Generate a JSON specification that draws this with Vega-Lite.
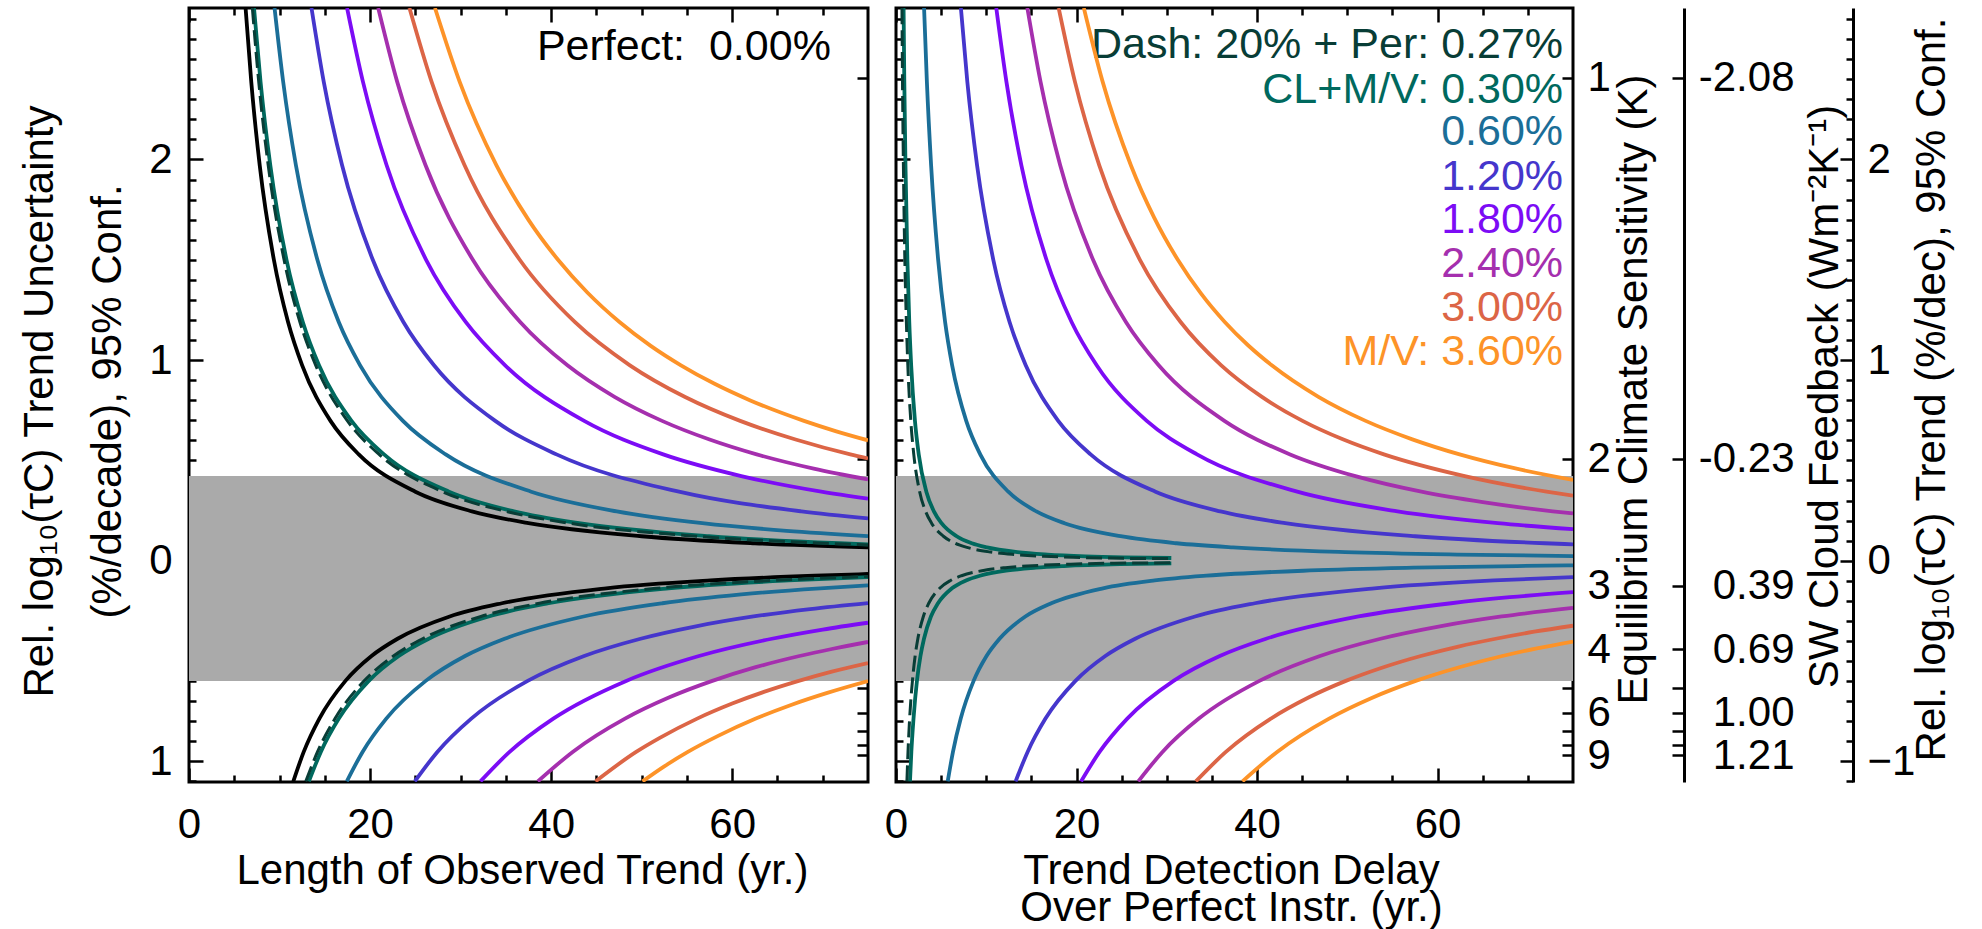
{
 "$schema": "https://vega.github.io/schema/vega-lite/v6.json",
 "background": "white",
 "padding": {"left": 16, "top": 5, "right": 5, "bottom": 0},
 "config": {
  "view": {"stroke": "black", "strokeWidth": 3},
  "font": "Liberation Sans",
  "concat": {"spacing": 11},
  "axis": {"grid": false, "minExtent": 0, "maxExtent": 400, "labelFont": "Liberation Sans", "labelFontSize": 42, "labelColor": "black", "titleFont": "Liberation Sans", "titleFontSize": 42, "titleFontWeight": "normal", "titleColor": "black", "tickColor": "black", "tickWidth": 2.5, "domainColor": "black", "domainWidth": 3, "labelFlush": false, "labelOverlap": false, "labelBound": false},
  "line": {"strokeWidth": 3.8, "interpolate": "monotone"}
 },
 "datasets": {
  "band": [{"x0": 0, "x1": 75, "y0": -0.6, "y1": 0.422}],
  "labels": [
   {"panel": "L", "series": "perfect", "text": "Perfect:\u00a0 0.00%", "x": 70.9, "y": 2.561},
   {"panel": "R", "series": "dash", "text": "Dash: 20% + Per: 0.27%", "x": 73.9, "y": 2.569},
   {"panel": "R", "series": "cl", "text": "CL+M/V: 0.30%", "x": 73.9, "y": 2.347},
   {"panel": "R", "series": "p060", "text": "0.60%", "x": 73.9, "y": 2.138},
   {"panel": "R", "series": "p120", "text": "1.20%", "x": 73.9, "y": 1.912},
   {"panel": "R", "series": "p180", "text": "1.80%", "x": 73.9, "y": 1.698},
   {"panel": "R", "series": "p240", "text": "2.40%", "x": 73.9, "y": 1.477},
   {"panel": "R", "series": "p300", "text": "3.00%", "x": 73.9, "y": 1.261},
   {"panel": "R", "series": "p360", "text": "M/V: 3.60%", "x": 73.9, "y": 1.042}
  ],
  "curves": [
   {"panel":"L","series":"p360","half":"u","x":27.17,"y":2.755},{"panel":"L","series":"p360","half":"u","x":29.89,"y":2.388},{"panel":"L","series":"p360","half":"u","x":33.96,"y":1.971},{"panel":"L","series":"p360","half":"u","x":37.5,"y":1.699},{"panel":"L","series":"p360","half":"u","x":40.76,"y":1.5},{"panel":"L","series":"p360","half":"u","x":44,"y":1.337},{"panel":"L","series":"p360","half":"u","x":47.55,"y":1.19},{"panel":"L","series":"p360","half":"u","x":51,"y":1.071},{"panel":"L","series":"p360","half":"u","x":54.34,"y":0.974},{"panel":"L","series":"p360","half":"u","x":58,"y":0.883},{"panel":"L","series":"p360","half":"u","x":62,"y":0.799},{"panel":"L","series":"p360","half":"u","x":67.93,"y":0.697},{"panel":"L","series":"p360","half":"u","x":71.5,"y":0.645},{"panel":"L","series":"p360","half":"u","x":75,"y":0.6},
   {"panel":"L","series":"p360","half":"l","x":50.09,"y":-1.1},{"panel":"L","series":"p360","half":"l","x":52.5,"y":-1.025},{"panel":"L","series":"p360","half":"l","x":55.1,"y":-0.953},{"panel":"L","series":"p360","half":"l","x":58.5,"y":-0.872},{"panel":"L","series":"p360","half":"l","x":62.61,"y":-0.787},{"panel":"L","series":"p360","half":"l","x":66.5,"y":-0.719},{"panel":"L","series":"p360","half":"l","x":70.5,"y":-0.659},{"panel":"L","series":"p360","half":"l","x":75,"y":-0.6},
   {"panel":"L","series":"p300","half":"u","x":24.35,"y":2.755},{"panel":"L","series":"p300","half":"u","x":26.79,"y":2.388},{"panel":"L","series":"p300","half":"u","x":30.44,"y":1.971},{"panel":"L","series":"p300","half":"u","x":36.53,"y":1.5},{"panel":"L","series":"p300","half":"u","x":42.61,"y":1.19},{"panel":"L","series":"p300","half":"u","x":48.7,"y":0.974},{"panel":"L","series":"p300","half":"u","x":54.8,"y":0.816},{"panel":"L","series":"p300","half":"u","x":60.88,"y":0.697},{"panel":"L","series":"p300","half":"u","x":67,"y":0.604},{"panel":"L","series":"p300","half":"u","x":73.05,"y":0.53},{"panel":"L","series":"p300","half":"u","x":75,"y":0.51},
   {"panel":"L","series":"p300","half":"l","x":44.9,"y":-1.1},{"panel":"L","series":"p300","half":"l","x":49.39,"y":-0.953},{"panel":"L","series":"p300","half":"l","x":52,"y":-0.883},{"panel":"L","series":"p300","half":"l","x":56.13,"y":-0.787},{"panel":"L","series":"p300","half":"l","x":60,"y":-0.712},{"panel":"L","series":"p300","half":"l","x":63.5,"y":-0.654},{"panel":"L","series":"p300","half":"l","x":67.35,"y":-0.599},{"panel":"L","series":"p300","half":"l","x":71,"y":-0.553},{"panel":"L","series":"p300","half":"l","x":75,"y":-0.51},
   {"panel":"L","series":"p240","half":"u","x":20.9,"y":2.755},{"panel":"L","series":"p240","half":"u","x":22.99,"y":2.388},{"panel":"L","series":"p240","half":"u","x":26.13,"y":1.971},{"panel":"L","series":"p240","half":"u","x":31.35,"y":1.5},{"panel":"L","series":"p240","half":"u","x":36.58,"y":1.19},{"panel":"L","series":"p240","half":"u","x":41.8,"y":0.974},{"panel":"L","series":"p240","half":"u","x":47,"y":0.817},{"panel":"L","series":"p240","half":"u","x":52.25,"y":0.697},{"panel":"L","series":"p240","half":"u","x":57.5,"y":0.604},{"panel":"L","series":"p240","half":"u","x":62.7,"y":0.53},{"panel":"L","series":"p240","half":"u","x":69,"y":0.459},{"panel":"L","series":"p240","half":"u","x":75,"y":0.405},
   {"panel":"L","series":"p240","half":"l","x":38.53,"y":-1.1},{"panel":"L","series":"p240","half":"l","x":42.38,"y":-0.953},{"panel":"L","series":"p240","half":"l","x":48.16,"y":-0.787},{"panel":"L","series":"p240","half":"l","x":53,"y":-0.682},{"panel":"L","series":"p240","half":"l","x":57.8,"y":-0.599},{"panel":"L","series":"p240","half":"l","x":62.5,"y":-0.532},{"panel":"L","series":"p240","half":"l","x":67.43,"y":-0.475},{"panel":"L","series":"p240","half":"l","x":71,"y":-0.44},{"panel":"L","series":"p240","half":"l","x":75,"y":-0.405},
   {"panel":"L","series":"p180","half":"u","x":17.46,"y":2.755},{"panel":"L","series":"p180","half":"u","x":19.21,"y":2.388},{"panel":"L","series":"p180","half":"u","x":21.83,"y":1.971},{"panel":"L","series":"p180","half":"u","x":26.19,"y":1.5},{"panel":"L","series":"p180","half":"u","x":30.56,"y":1.19},{"panel":"L","series":"p180","half":"u","x":34.92,"y":0.974},{"panel":"L","series":"p180","half":"u","x":43.65,"y":0.697},{"panel":"L","series":"p180","half":"u","x":52.38,"y":0.53},{"panel":"L","series":"p180","half":"u","x":61,"y":0.422},{"panel":"L","series":"p180","half":"u","x":69.84,"y":0.344},{"panel":"L","series":"p180","half":"u","x":75,"y":0.309},
   {"panel":"L","series":"p180","half":"l","x":32.19,"y":-1.1},{"panel":"L","series":"p180","half":"l","x":35.41,"y":-0.953},{"panel":"L","series":"p180","half":"l","x":40.24,"y":-0.787},{"panel":"L","series":"p180","half":"l","x":48.29,"y":-0.599},{"panel":"L","series":"p180","half":"l","x":56.33,"y":-0.475},{"panel":"L","series":"p180","half":"l","x":64.38,"y":-0.389},{"panel":"L","series":"p180","half":"l","x":70,"y":-0.343},{"panel":"L","series":"p180","half":"l","x":75,"y":-0.309},
   {"panel":"L","series":"p120","half":"u","x":13.53,"y":2.755},{"panel":"L","series":"p120","half":"u","x":14.88,"y":2.388},{"panel":"L","series":"p120","half":"u","x":16.91,"y":1.971},{"panel":"L","series":"p120","half":"u","x":20.3,"y":1.5},{"panel":"L","series":"p120","half":"u","x":23.68,"y":1.19},{"panel":"L","series":"p120","half":"u","x":27.06,"y":0.974},{"panel":"L","series":"p120","half":"u","x":33.83,"y":0.697},{"panel":"L","series":"p120","half":"u","x":40.59,"y":0.53},{"panel":"L","series":"p120","half":"u","x":54.12,"y":0.344},{"panel":"L","series":"p120","half":"u","x":67.65,"y":0.246},{"panel":"L","series":"p120","half":"u","x":75,"y":0.211},
   {"panel":"L","series":"p120","half":"l","x":24.94,"y":-1.1},{"panel":"L","series":"p120","half":"l","x":27.43,"y":-0.953},{"panel":"L","series":"p120","half":"l","x":31.18,"y":-0.787},{"panel":"L","series":"p120","half":"l","x":37.41,"y":-0.599},{"panel":"L","series":"p120","half":"l","x":43.65,"y":-0.475},{"panel":"L","series":"p120","half":"l","x":49.88,"y":-0.389},{"panel":"L","series":"p120","half":"l","x":56,"y":-0.327},{"panel":"L","series":"p120","half":"l","x":62.35,"y":-0.278},{"panel":"L","series":"p120","half":"l","x":68.6,"y":-0.241},{"panel":"L","series":"p120","half":"l","x":75,"y":-0.211},
   {"panel":"L","series":"p060","half":"u","x":9.45,"y":2.755},{"panel":"L","series":"p060","half":"u","x":10.4,"y":2.388},{"panel":"L","series":"p060","half":"u","x":11.81,"y":1.971},{"panel":"L","series":"p060","half":"u","x":14.18,"y":1.5},{"panel":"L","series":"p060","half":"u","x":16.54,"y":1.19},{"panel":"L","series":"p060","half":"u","x":18.9,"y":0.974},{"panel":"L","series":"p060","half":"u","x":23.63,"y":0.697},{"panel":"L","series":"p060","half":"u","x":28.35,"y":0.53},{"panel":"L","series":"p060","half":"u","x":37.8,"y":0.344},{"panel":"L","series":"p060","half":"u","x":47.25,"y":0.246},{"panel":"L","series":"p060","half":"u","x":56.7,"y":0.187},{"panel":"L","series":"p060","half":"u","x":66,"y":0.149},{"panel":"L","series":"p060","half":"u","x":75,"y":0.123},
   {"panel":"L","series":"p060","half":"l","x":17.43,"y":-1.1},{"panel":"L","series":"p060","half":"l","x":19.17,"y":-0.953},{"panel":"L","series":"p060","half":"l","x":21.79,"y":-0.787},{"panel":"L","series":"p060","half":"l","x":26.15,"y":-0.599},{"panel":"L","series":"p060","half":"l","x":30.5,"y":-0.475},{"panel":"L","series":"p060","half":"l","x":34.86,"y":-0.389},{"panel":"L","series":"p060","half":"l","x":43.58,"y":-0.278},{"panel":"L","series":"p060","half":"l","x":52.29,"y":-0.212},{"panel":"L","series":"p060","half":"l","x":61,"y":-0.168},{"panel":"L","series":"p060","half":"l","x":69.72,"y":-0.1375},{"panel":"L","series":"p060","half":"l","x":75,"y":-0.123},
   {"panel":"L","series":"perfect","half":"u","x":6.25,"y":2.755},{"panel":"L","series":"perfect","half":"u","x":6.875,"y":2.388},{"panel":"L","series":"perfect","half":"u","x":7.81,"y":1.971},{"panel":"L","series":"perfect","half":"u","x":9.375,"y":1.5},{"panel":"L","series":"perfect","half":"u","x":10.94,"y":1.19},{"panel":"L","series":"perfect","half":"u","x":12.5,"y":0.974},{"panel":"L","series":"perfect","half":"u","x":15.63,"y":0.697},{"panel":"L","series":"perfect","half":"u","x":18.75,"y":0.53},{"panel":"L","series":"perfect","half":"u","x":25,"y":0.344},{"panel":"L","series":"perfect","half":"u","x":31.25,"y":0.246},{"panel":"L","series":"perfect","half":"u","x":37.5,"y":0.187},{"panel":"L","series":"perfect","half":"u","x":50,"y":0.122},{"panel":"L","series":"perfect","half":"u","x":62.5,"y":0.0871},{"panel":"L","series":"perfect","half":"u","x":75,"y":0.0663},
   {"panel":"L","series":"perfect","half":"l","x":11.52,"y":-1.1},{"panel":"L","series":"perfect","half":"l","x":12.67,"y":-0.953},{"panel":"L","series":"perfect","half":"l","x":14.4,"y":-0.787},{"panel":"L","series":"perfect","half":"l","x":17.28,"y":-0.599},{"panel":"L","series":"perfect","half":"l","x":20.16,"y":-0.475},{"panel":"L","series":"perfect","half":"l","x":23.04,"y":-0.389},{"panel":"L","series":"perfect","half":"l","x":28.8,"y":-0.278},{"panel":"L","series":"perfect","half":"l","x":34.56,"y":-0.212},{"panel":"L","series":"perfect","half":"l","x":46.08,"y":-0.1375},{"panel":"L","series":"perfect","half":"l","x":57.6,"y":-0.0984},{"panel":"L","series":"perfect","half":"l","x":69.12,"y":-0.0748},{"panel":"L","series":"perfect","half":"l","x":75,"y":-0.0662},
   {"panel":"L","series":"cl","half":"u","x":7.18,"y":2.755},{"panel":"L","series":"cl","half":"u","x":7.9,"y":2.388},{"panel":"L","series":"cl","half":"u","x":8.98,"y":1.971},{"panel":"L","series":"cl","half":"u","x":10.77,"y":1.5},{"panel":"L","series":"cl","half":"u","x":12.57,"y":1.19},{"panel":"L","series":"cl","half":"u","x":14.36,"y":0.974},{"panel":"L","series":"cl","half":"u","x":17.95,"y":0.697},{"panel":"L","series":"cl","half":"u","x":21.54,"y":0.53},{"panel":"L","series":"cl","half":"u","x":28.72,"y":0.344},{"panel":"L","series":"cl","half":"u","x":35.9,"y":0.246},{"panel":"L","series":"cl","half":"u","x":43.08,"y":0.187},{"panel":"L","series":"cl","half":"u","x":57.44,"y":0.122},{"panel":"L","series":"cl","half":"u","x":71.8,"y":0.0871},{"panel":"L","series":"cl","half":"u","x":75,"y":0.0816},
   {"panel":"L","series":"cl","half":"l","x":13.24,"y":-1.1},{"panel":"L","series":"cl","half":"l","x":14.56,"y":-0.953},{"panel":"L","series":"cl","half":"l","x":16.55,"y":-0.787},{"panel":"L","series":"cl","half":"l","x":19.86,"y":-0.599},{"panel":"L","series":"cl","half":"l","x":23.17,"y":-0.475},{"panel":"L","series":"cl","half":"l","x":26.48,"y":-0.389},{"panel":"L","series":"cl","half":"l","x":33.1,"y":-0.278},{"panel":"L","series":"cl","half":"l","x":39.72,"y":-0.212},{"panel":"L","series":"cl","half":"l","x":52.96,"y":-0.1375},{"panel":"L","series":"cl","half":"l","x":66.2,"y":-0.0984},{"panel":"L","series":"cl","half":"l","x":75,"y":-0.0816},
   {"panel":"L","series":"dash","half":"u","x":7,"y":2.755},{"panel":"L","series":"dash","half":"u","x":7.7,"y":2.388},{"panel":"L","series":"dash","half":"u","x":8.75,"y":1.971},{"panel":"L","series":"dash","half":"u","x":10.5,"y":1.5},{"panel":"L","series":"dash","half":"u","x":12.25,"y":1.19},{"panel":"L","series":"dash","half":"u","x":14,"y":0.974},{"panel":"L","series":"dash","half":"u","x":17.5,"y":0.697},{"panel":"L","series":"dash","half":"u","x":21,"y":0.53},{"panel":"L","series":"dash","half":"u","x":28,"y":0.344},{"panel":"L","series":"dash","half":"u","x":35,"y":0.246},{"panel":"L","series":"dash","half":"u","x":42,"y":0.187},{"panel":"L","series":"dash","half":"u","x":56,"y":0.122},{"panel":"L","series":"dash","half":"u","x":70,"y":0.0871},{"panel":"L","series":"dash","half":"u","x":75,"y":0.0785},
   {"panel":"L","series":"dash","half":"l","x":12.9,"y":-1.1},{"panel":"L","series":"dash","half":"l","x":14.19,"y":-0.953},{"panel":"L","series":"dash","half":"l","x":16.13,"y":-0.787},{"panel":"L","series":"dash","half":"l","x":19.35,"y":-0.599},{"panel":"L","series":"dash","half":"l","x":22.58,"y":-0.475},{"panel":"L","series":"dash","half":"l","x":25.8,"y":-0.389},{"panel":"L","series":"dash","half":"l","x":32.25,"y":-0.278},{"panel":"L","series":"dash","half":"l","x":38.7,"y":-0.212},{"panel":"L","series":"dash","half":"l","x":51.6,"y":-0.1375},{"panel":"L","series":"dash","half":"l","x":64.5,"y":-0.0984},{"panel":"L","series":"dash","half":"l","x":75,"y":-0.0785},

   {"panel":"R","series":"p360","half":"u","x":20.81,"y":2.755},{"panel":"R","series":"p360","half":"u","x":22.89,"y":2.388},{"panel":"R","series":"p360","half":"u","x":26.02,"y":1.971},{"panel":"R","series":"p360","half":"u","x":28.6,"y":1.71},{"panel":"R","series":"p360","half":"u","x":31.22,"y":1.5},{"panel":"R","series":"p360","half":"u","x":33.8,"y":1.331},{"panel":"R","series":"p360","half":"u","x":36.42,"y":1.19},{"panel":"R","series":"p360","half":"u","x":39,"y":1.074},{"panel":"R","series":"p360","half":"u","x":41.63,"y":0.974},{"panel":"R","series":"p360","half":"u","x":46.8,"y":0.817},{"panel":"R","series":"p360","half":"u","x":52.03,"y":0.697},{"panel":"R","series":"p360","half":"u","x":57.2,"y":0.605},{"panel":"R","series":"p360","half":"u","x":62.44,"y":0.53},{"panel":"R","series":"p360","half":"u","x":68.5,"y":0.461},{"panel":"R","series":"p360","half":"u","x":75,"y":0.4027},
   {"panel":"R","series":"p360","half":"l","x":38.38,"y":-1.1},{"panel":"R","series":"p360","half":"l","x":42.22,"y":-0.953},{"panel":"R","series":"p360","half":"l","x":47.98,"y":-0.787},{"panel":"R","series":"p360","half":"l","x":52.7,"y":-0.684},{"panel":"R","series":"p360","half":"l","x":57.57,"y":-0.599},{"panel":"R","series":"p360","half":"l","x":62.4,"y":-0.531},{"panel":"R","series":"p360","half":"l","x":67.17,"y":-0.475},{"panel":"R","series":"p360","half":"l","x":71,"y":-0.437},{"panel":"R","series":"p360","half":"l","x":75,"y":-0.4027},
   {"panel":"R","series":"p300","half":"u","x":18.02,"y":2.755},{"panel":"R","series":"p300","half":"u","x":19.82,"y":2.388},{"panel":"R","series":"p300","half":"u","x":22.52,"y":1.971},{"panel":"R","series":"p300","half":"u","x":27.02,"y":1.5},{"panel":"R","series":"p300","half":"u","x":31.53,"y":1.19},{"panel":"R","series":"p300","half":"u","x":36.03,"y":0.974},{"panel":"R","series":"p300","half":"u","x":40.5,"y":0.818},{"panel":"R","series":"p300","half":"u","x":45.04,"y":0.697},{"panel":"R","series":"p300","half":"u","x":49.5,"y":0.605},{"panel":"R","series":"p300","half":"u","x":54.05,"y":0.53},{"panel":"R","series":"p300","half":"u","x":63,"y":0.4215},{"panel":"R","series":"p300","half":"u","x":72.07,"y":0.344},{"panel":"R","series":"p300","half":"u","x":75,"y":0.324},
   {"panel":"R","series":"p300","half":"l","x":33.22,"y":-1.1},{"panel":"R","series":"p300","half":"l","x":36.54,"y":-0.953},{"panel":"R","series":"p300","half":"l","x":41.53,"y":-0.787},{"panel":"R","series":"p300","half":"l","x":45.7,"y":-0.682},{"panel":"R","series":"p300","half":"l","x":49.83,"y":-0.599},{"panel":"R","series":"p300","half":"l","x":54,"y":-0.531},{"panel":"R","series":"p300","half":"l","x":58.14,"y":-0.475},{"panel":"R","series":"p300","half":"l","x":62.3,"y":-0.428},{"panel":"R","series":"p300","half":"l","x":66.44,"y":-0.389},{"panel":"R","series":"p300","half":"l","x":70.7,"y":-0.354},{"panel":"R","series":"p300","half":"l","x":75,"y":-0.324},
   {"panel":"R","series":"p240","half":"u","x":14.55,"y":2.755},{"panel":"R","series":"p240","half":"u","x":16.01,"y":2.388},{"panel":"R","series":"p240","half":"u","x":18.19,"y":1.971},{"panel":"R","series":"p240","half":"u","x":21.83,"y":1.5},{"panel":"R","series":"p240","half":"u","x":25.47,"y":1.19},{"panel":"R","series":"p240","half":"u","x":29.1,"y":0.974},{"panel":"R","series":"p240","half":"u","x":36.38,"y":0.697},{"panel":"R","series":"p240","half":"u","x":43.66,"y":0.53},{"panel":"R","series":"p240","half":"u","x":51,"y":0.42},{"panel":"R","series":"p240","half":"u","x":58.21,"y":0.344},{"panel":"R","series":"p240","half":"u","x":65,"y":0.2918},{"panel":"R","series":"p240","half":"u","x":72.76,"y":0.246},{"panel":"R","series":"p240","half":"u","x":75,"y":0.2355},
   {"panel":"R","series":"p240","half":"l","x":26.84,"y":-1.1},{"panel":"R","series":"p240","half":"l","x":29.52,"y":-0.953},{"panel":"R","series":"p240","half":"l","x":33.55,"y":-0.787},{"panel":"R","series":"p240","half":"l","x":40.26,"y":-0.599},{"panel":"R","series":"p240","half":"l","x":46.97,"y":-0.475},{"panel":"R","series":"p240","half":"l","x":53.68,"y":-0.389},{"panel":"R","series":"p240","half":"l","x":60.4,"y":-0.326},{"panel":"R","series":"p240","half":"l","x":67.1,"y":-0.278},{"panel":"R","series":"p240","half":"l","x":75,"y":-0.2355},
   {"panel":"R","series":"p180","half":"u","x":11.11,"y":2.755},{"panel":"R","series":"p180","half":"u","x":12.23,"y":2.388},{"panel":"R","series":"p180","half":"u","x":13.89,"y":1.971},{"panel":"R","series":"p180","half":"u","x":16.67,"y":1.5},{"panel":"R","series":"p180","half":"u","x":19.45,"y":1.19},{"panel":"R","series":"p180","half":"u","x":22.23,"y":0.974},{"panel":"R","series":"p180","half":"u","x":27.78,"y":0.697},{"panel":"R","series":"p180","half":"u","x":33.34,"y":0.53},{"panel":"R","series":"p180","half":"u","x":44.45,"y":0.344},{"panel":"R","series":"p180","half":"u","x":55.56,"y":0.246},{"panel":"R","series":"p180","half":"u","x":66.68,"y":0.187},{"panel":"R","series":"p180","half":"u","x":75,"y":0.157},
   {"panel":"R","series":"p180","half":"l","x":20.5,"y":-1.1},{"panel":"R","series":"p180","half":"l","x":22.55,"y":-0.953},{"panel":"R","series":"p180","half":"l","x":25.62,"y":-0.787},{"panel":"R","series":"p180","half":"l","x":30.75,"y":-0.599},{"panel":"R","series":"p180","half":"l","x":35.87,"y":-0.475},{"panel":"R","series":"p180","half":"l","x":41,"y":-0.389},{"panel":"R","series":"p180","half":"l","x":51.25,"y":-0.278},{"panel":"R","series":"p180","half":"l","x":61.5,"y":-0.212},{"panel":"R","series":"p180","half":"l","x":68,"y":-0.182},{"panel":"R","series":"p180","half":"l","x":75,"y":-0.157},
   {"panel":"R","series":"p120","half":"u","x":7.19,"y":2.755},{"panel":"R","series":"p120","half":"u","x":7.9,"y":2.388},{"panel":"R","series":"p120","half":"u","x":8.98,"y":1.971},{"panel":"R","series":"p120","half":"u","x":10.78,"y":1.5},{"panel":"R","series":"p120","half":"u","x":12.58,"y":1.19},{"panel":"R","series":"p120","half":"u","x":14.37,"y":0.974},{"panel":"R","series":"p120","half":"u","x":17.97,"y":0.697},{"panel":"R","series":"p120","half":"u","x":21.56,"y":0.53},{"panel":"R","series":"p120","half":"u","x":28.75,"y":0.344},{"panel":"R","series":"p120","half":"u","x":35.94,"y":0.246},{"panel":"R","series":"p120","half":"u","x":43.12,"y":0.187},{"panel":"R","series":"p120","half":"u","x":57.5,"y":0.122},{"panel":"R","series":"p120","half":"u","x":71.9,"y":0.0871},{"panel":"R","series":"p120","half":"u","x":75,"y":0.0817},
   {"panel":"R","series":"p120","half":"l","x":13.25,"y":-1.1},{"panel":"R","series":"p120","half":"l","x":14.58,"y":-0.953},{"panel":"R","series":"p120","half":"l","x":16.56,"y":-0.787},{"panel":"R","series":"p120","half":"l","x":19.88,"y":-0.599},{"panel":"R","series":"p120","half":"l","x":23.19,"y":-0.475},{"panel":"R","series":"p120","half":"l","x":26.5,"y":-0.389},{"panel":"R","series":"p120","half":"l","x":33.13,"y":-0.278},{"panel":"R","series":"p120","half":"l","x":39.75,"y":-0.212},{"panel":"R","series":"p120","half":"l","x":53,"y":-0.1375},{"panel":"R","series":"p120","half":"l","x":66.25,"y":-0.0984},{"panel":"R","series":"p120","half":"l","x":75,"y":-0.0817},
   {"panel":"R","series":"p060","half":"u","x":3.11,"y":2.755},{"panel":"R","series":"p060","half":"u","x":3.42,"y":2.388},{"panel":"R","series":"p060","half":"u","x":3.89,"y":1.971},{"panel":"R","series":"p060","half":"u","x":4.67,"y":1.5},{"panel":"R","series":"p060","half":"u","x":5.44,"y":1.19},{"panel":"R","series":"p060","half":"u","x":6.22,"y":0.974},{"panel":"R","series":"p060","half":"u","x":7.78,"y":0.697},{"panel":"R","series":"p060","half":"u","x":9.33,"y":0.53},{"panel":"R","series":"p060","half":"u","x":12.44,"y":0.344},{"panel":"R","series":"p060","half":"u","x":15.55,"y":0.246},{"panel":"R","series":"p060","half":"u","x":18.66,"y":0.187},{"panel":"R","series":"p060","half":"u","x":24.88,"y":0.122},{"panel":"R","series":"p060","half":"u","x":31.1,"y":0.0871},{"panel":"R","series":"p060","half":"u","x":37.32,"y":0.0663},{"panel":"R","series":"p060","half":"u","x":49.76,"y":0.043},{"panel":"R","series":"p060","half":"u","x":62.2,"y":0.0308},{"panel":"R","series":"p060","half":"u","x":75,"y":0.0233},
   {"panel":"R","series":"p060","half":"l","x":5.73,"y":-1.1},{"panel":"R","series":"p060","half":"l","x":6.31,"y":-0.953},{"panel":"R","series":"p060","half":"l","x":7.17,"y":-0.787},{"panel":"R","series":"p060","half":"l","x":8.6,"y":-0.599},{"panel":"R","series":"p060","half":"l","x":10.03,"y":-0.475},{"panel":"R","series":"p060","half":"l","x":11.47,"y":-0.389},{"panel":"R","series":"p060","half":"l","x":14.33,"y":-0.278},{"panel":"R","series":"p060","half":"l","x":17.2,"y":-0.212},{"panel":"R","series":"p060","half":"l","x":22.93,"y":-0.1375},{"panel":"R","series":"p060","half":"l","x":28.66,"y":-0.0984},{"panel":"R","series":"p060","half":"l","x":34.4,"y":-0.0748},{"panel":"R","series":"p060","half":"l","x":45.86,"y":-0.0486},{"panel":"R","series":"p060","half":"l","x":57.33,"y":-0.0348},{"panel":"R","series":"p060","half":"l","x":68.8,"y":-0.0265},{"panel":"R","series":"p060","half":"l","x":75,"y":-0.0233},
   {"panel":"R","series":"cl","half":"u","x":0.84,"y":2.755},{"panel":"R","series":"cl","half":"u","x":0.92,"y":2.388},{"panel":"R","series":"cl","half":"u","x":1.05,"y":1.971},{"panel":"R","series":"cl","half":"u","x":1.26,"y":1.5},{"panel":"R","series":"cl","half":"u","x":1.47,"y":1.19},{"panel":"R","series":"cl","half":"u","x":1.68,"y":0.974},{"panel":"R","series":"cl","half":"u","x":2.1,"y":0.697},{"panel":"R","series":"cl","half":"u","x":2.52,"y":0.53},{"panel":"R","series":"cl","half":"u","x":3.36,"y":0.344},{"panel":"R","series":"cl","half":"u","x":4.2,"y":0.246},{"panel":"R","series":"cl","half":"u","x":5.04,"y":0.187},{"panel":"R","series":"cl","half":"u","x":6.72,"y":0.122},{"panel":"R","series":"cl","half":"u","x":8.4,"y":0.0871},{"panel":"R","series":"cl","half":"u","x":10.08,"y":0.0663},{"panel":"R","series":"cl","half":"u","x":13.44,"y":0.043},{"panel":"R","series":"cl","half":"u","x":16.8,"y":0.0308},{"panel":"R","series":"cl","half":"u","x":21,"y":0.022},{"panel":"R","series":"cl","half":"u","x":25.2,"y":0.0168},{"panel":"R","series":"cl","half":"u","x":30.5,"y":0.0135},
   {"panel":"R","series":"cl","half":"l","x":1.55,"y":-1.1},{"panel":"R","series":"cl","half":"l","x":1.7,"y":-0.953},{"panel":"R","series":"cl","half":"l","x":1.94,"y":-0.787},{"panel":"R","series":"cl","half":"l","x":2.32,"y":-0.599},{"panel":"R","series":"cl","half":"l","x":2.71,"y":-0.475},{"panel":"R","series":"cl","half":"l","x":3.1,"y":-0.389},{"panel":"R","series":"cl","half":"l","x":3.87,"y":-0.278},{"panel":"R","series":"cl","half":"l","x":4.65,"y":-0.212},{"panel":"R","series":"cl","half":"l","x":6.2,"y":-0.1375},{"panel":"R","series":"cl","half":"l","x":7.75,"y":-0.0984},{"panel":"R","series":"cl","half":"l","x":9.3,"y":-0.0748},{"panel":"R","series":"cl","half":"l","x":12.4,"y":-0.0486},{"panel":"R","series":"cl","half":"l","x":15.5,"y":-0.0348},{"panel":"R","series":"cl","half":"l","x":18.6,"y":-0.0265},{"panel":"R","series":"cl","half":"l","x":24.8,"y":-0.0172},{"panel":"R","series":"cl","half":"l","x":30.5,"y":-0.0135},
   {"panel":"R","series":"dash","half":"u","x":0.66,"y":2.755},{"panel":"R","series":"dash","half":"u","x":0.72,"y":2.388},{"panel":"R","series":"dash","half":"u","x":0.82,"y":1.971},{"panel":"R","series":"dash","half":"u","x":0.98,"y":1.5},{"panel":"R","series":"dash","half":"u","x":1.15,"y":1.19},{"panel":"R","series":"dash","half":"u","x":1.31,"y":0.974},{"panel":"R","series":"dash","half":"u","x":1.64,"y":0.697},{"panel":"R","series":"dash","half":"u","x":1.97,"y":0.53},{"panel":"R","series":"dash","half":"u","x":2.62,"y":0.344},{"panel":"R","series":"dash","half":"u","x":3.28,"y":0.246},{"panel":"R","series":"dash","half":"u","x":3.94,"y":0.187},{"panel":"R","series":"dash","half":"u","x":5.25,"y":0.122},{"panel":"R","series":"dash","half":"u","x":6.56,"y":0.0871},{"panel":"R","series":"dash","half":"u","x":7.87,"y":0.0663},{"panel":"R","series":"dash","half":"u","x":10.5,"y":0.043},{"panel":"R","series":"dash","half":"u","x":13.12,"y":0.0308},{"panel":"R","series":"dash","half":"u","x":16.4,"y":0.022},{"panel":"R","series":"dash","half":"u","x":19.68,"y":0.0168},{"panel":"R","series":"dash","half":"u","x":26.24,"y":0.0115},{"panel":"R","series":"dash","half":"u","x":30.5,"y":0.0105},
   {"panel":"R","series":"dash","half":"l","x":1.21,"y":-1.1},{"panel":"R","series":"dash","half":"l","x":1.33,"y":-0.953},{"panel":"R","series":"dash","half":"l","x":1.51,"y":-0.787},{"panel":"R","series":"dash","half":"l","x":1.82,"y":-0.599},{"panel":"R","series":"dash","half":"l","x":2.12,"y":-0.475},{"panel":"R","series":"dash","half":"l","x":2.42,"y":-0.389},{"panel":"R","series":"dash","half":"l","x":3.03,"y":-0.278},{"panel":"R","series":"dash","half":"l","x":3.63,"y":-0.212},{"panel":"R","series":"dash","half":"l","x":4.84,"y":-0.1375},{"panel":"R","series":"dash","half":"l","x":6.05,"y":-0.0984},{"panel":"R","series":"dash","half":"l","x":7.26,"y":-0.0748},{"panel":"R","series":"dash","half":"l","x":9.68,"y":-0.0486},{"panel":"R","series":"dash","half":"l","x":12.1,"y":-0.0348},{"panel":"R","series":"dash","half":"l","x":14.52,"y":-0.0265},{"panel":"R","series":"dash","half":"l","x":19.36,"y":-0.0172},{"panel":"R","series":"dash","half":"l","x":24.2,"y":-0.0123},{"panel":"R","series":"dash","half":"l","x":30.5,"y":-0.0105}
  ]
 },
 "hconcat": [
  {
   "width": 679, "height": 774,
   "resolve": {"axis": {"x": "independent", "y": "independent"}},
   "layer": [
    {
     "data": {"name": "band"},
     "mark": {"type": "rect", "color": "#aaaaaa"},
     "encoding": {
      "x": {"field": "x0", "type": "quantitative", "scale": {"domain": [0, 75], "nice": false, "zero": false},
            "axis": {"orient": "bottom", "values": [0, 20, 40, 60], "ticks": false, "domain": false, "labelPadding": 22, "title": "Length of Observed Trend (yr.)", "titleX": 333, "titleY": 101, "titleAlign": "center", "titleBaseline": "alphabetic", "titleAngle": 0}},
      "x2": {"field": "x1"},
      "y": {"field": "y0", "type": "quantitative", "scale": {"domain": [-1.103, 2.755], "nice": false, "zero": false},
            "axis": {"orient": "left", "values": [-1, 0, 1, 2], "ticks": false, "domain": false, "labelPadding": 17, "labelExpr": "format(abs(datum.value), 'd')", "title": ["Rel. log₁₀(τC) Trend Uncertainty", "(%/decade), 95% Conf."], "titleX": -137, "titleY": 393, "titleAngle": 270, "titleAlign": "center", "titleBaseline": "alphabetic", "titleLineHeight": 68}},
      "y2": {"field": "y1"}
     }
    },
    {
     "data": {"name": "labels"},
     "transform": [{"filter": "datum.panel === 'L'"}],
     "mark": {"type": "text", "align": "right", "baseline": "middle", "fontSize": 43, "font": "Liberation Sans"},
     "encoding": {
      "x": {"field": "x", "type": "quantitative", "scale": {"domain": [0, 75], "nice": false, "zero": false},
            "axis": {"orient": "bottom", "values": [0, 20, 40, 60], "labels": false, "domain": false, "title": null, "tickSize": -14}},
      "y": {"field": "y", "type": "quantitative", "scale": {"domain": [-1.103, 2.755], "nice": false, "zero": false},
            "axis": {"orient": "left", "values": [-1, 0, 1, 2], "labels": false, "domain": false, "title": null, "tickSize": -14}},
      "text": {"field": "text"},
      "color": {"field": "series", "type": "nominal", "legend": null, "scale": {"domain": ["perfect", "dash", "cl", "p060", "p120", "p180", "p240", "p300", "p360"], "range": ["#000000", "#083d36", "#00695e", "#1b6e98", "#4536cc", "#7c0cf5", "#a52fae", "#dc6546", "#fd9328"]}}
     }
    },
    {
     "data": {"name": "curves"},
     "transform": [{"filter": "datum.panel === 'L' && datum.series !== 'dash' && datum.series !== 'perfect' && datum.series !== 'cl'"}],
     "mark": {"type": "line", "clip": true},
     "encoding": {
      "x": {"field": "x", "type": "quantitative", "scale": {"domain": [0, 75], "nice": false, "zero": false},
            "axis": {"orient": "bottom", "values": [5, 10, 15, 25, 30, 35, 45, 50, 55, 65, 70], "labels": false, "domain": false, "title": null, "tickSize": -7}},
      "y": {"field": "y", "type": "quantitative", "scale": {"domain": [-1.103, 2.755], "nice": false, "zero": false},
            "axis": {"orient": "left", "values": [-1.1, -0.9, -0.8, -0.7, -0.6, -0.5, -0.4, -0.3, -0.2, -0.1, 0.1, 0.2, 0.3, 0.4, 0.5, 0.6, 0.7, 0.8, 0.9, 1.1, 1.2, 1.3, 1.4, 1.5, 1.6, 1.7, 1.8, 1.9, 2.1, 2.2, 2.3, 2.4, 2.5, 2.6, 2.7], "labels": false, "domain": false, "title": null, "tickSize": -7}},
      "color": {"field": "series", "type": "nominal", "legend": null, "scale": {"domain": ["perfect", "dash", "cl", "p060", "p120", "p180", "p240", "p300", "p360"], "range": ["#000000", "#083d36", "#00695e", "#1b6e98", "#4536cc", "#7c0cf5", "#a52fae", "#dc6546", "#fd9328"]}},
      "detail": {"field": "half", "type": "nominal"}
     }
    },
    {
     "data": {"name": "curves"},
     "transform": [{"filter": "datum.panel === 'L' && (datum.series === 'perfect' || datum.series === 'cl')"}],
     "mark": {"type": "line", "clip": true},
     "encoding": {
      "x": {"field": "x", "type": "quantitative", "scale": {"domain": [0, 75], "nice": false, "zero": false},
            "axis": {"orient": "top", "values": [0, 20, 40, 60], "labels": false, "domain": false, "title": null, "tickSize": -14}},
      "y": {"field": "y", "type": "quantitative", "scale": {"domain": [-1.103, 2.755], "nice": false, "zero": false},
            "axis": {"orient": "right", "values": [2.407, 0.5075, -0.1257, -0.4423, -0.6322, -0.7588, -0.8493, -0.9171, -0.9699], "labels": false, "domain": false, "title": null, "tickSize": -11}},
      "color": {"field": "series", "type": "nominal", "legend": null, "scale": {"domain": ["perfect", "dash", "cl", "p060", "p120", "p180", "p240", "p300", "p360"], "range": ["#000000", "#083d36", "#00695e", "#1b6e98", "#4536cc", "#7c0cf5", "#a52fae", "#dc6546", "#fd9328"]}},
      "detail": {"field": "half", "type": "nominal"}
     }
    },
    {
     "data": {"name": "curves"},
     "transform": [{"filter": "datum.panel === 'L' && datum.series === 'dash'"}],
     "mark": {"type": "line", "clip": true, "strokeWidth": 3, "strokeDash": [16, 6]},
     "encoding": {
      "x": {"field": "x", "type": "quantitative", "scale": {"domain": [0, 75], "nice": false, "zero": false},
            "axis": {"orient": "top", "values": [5, 10, 15, 25, 30, 35, 45, 50, 55, 65, 70], "labels": false, "domain": false, "title": null, "tickSize": -7}},
      "y": {"field": "y", "type": "quantitative", "scale": {"domain": [-1.103, 2.755], "nice": false, "zero": false}, "axis": null},
      "color": {"field": "series", "type": "nominal", "legend": null, "scale": {"domain": ["perfect", "dash", "cl", "p060", "p120", "p180", "p240", "p300", "p360"], "range": ["#000000", "#083d36", "#00695e", "#1b6e98", "#4536cc", "#7c0cf5", "#a52fae", "#dc6546", "#fd9328"]}},
      "detail": {"field": "half", "type": "nominal"}
     }
    }
   ]
  },
  {
   "width": 677, "height": 774,
   "resolve": {"axis": {"x": "independent", "y": "independent"}},
   "layer": [
    {
     "data": {"name": "band"},
     "mark": {"type": "rect", "color": "#aaaaaa"},
     "encoding": {
      "x": {"field": "x0", "type": "quantitative", "scale": {"domain": [0, 75], "nice": false, "zero": false},
            "axis": {"orient": "bottom", "values": [0, 20, 40, 60], "ticks": false, "domain": false, "labelPadding": 22, "title": ["Trend Detection Delay", "Over Perfect Instr. (yr.)"], "titleX": 335, "titleY": 101, "titleAlign": "center", "titleBaseline": "alphabetic", "titleAngle": 0, "titleLineHeight": 37}},
      "x2": {"field": "x1"},
      "y": {"field": "y0", "type": "quantitative", "scale": {"domain": [-1.103, 2.755], "nice": false, "zero": false},
            "axis": {"orient": "left", "values": [-1, 0, 1, 2], "labels": false, "domain": false, "title": null, "tickSize": -14}},
      "y2": {"field": "y1"}
     }
    },
    {
     "data": {"name": "labels"},
     "transform": [{"filter": "datum.panel === 'R'"}],
     "mark": {"type": "text", "align": "right", "baseline": "middle", "fontSize": 43, "font": "Liberation Sans"},
     "encoding": {
      "x": {"field": "x", "type": "quantitative", "scale": {"domain": [0, 75], "nice": false, "zero": false},
            "axis": {"orient": "bottom", "values": [0, 20, 40, 60], "labels": false, "domain": false, "title": null, "tickSize": -14}},
      "y": {"field": "y", "type": "quantitative", "scale": {"domain": [-1.103, 2.755], "nice": false, "zero": false},
            "axis": {"orient": "left", "values": [-1.1, -0.9, -0.8, -0.7, -0.6, -0.5, -0.4, -0.3, -0.2, -0.1, 0.1, 0.2, 0.3, 0.4, 0.5, 0.6, 0.7, 0.8, 0.9, 1.1, 1.2, 1.3, 1.4, 1.5, 1.6, 1.7, 1.8, 1.9, 2.1, 2.2, 2.3, 2.4, 2.5, 2.6, 2.7], "labels": false, "domain": false, "title": null, "tickSize": -7}},
      "text": {"field": "text"},
      "color": {"field": "series", "type": "nominal", "legend": null, "scale": {"domain": ["perfect", "dash", "cl", "p060", "p120", "p180", "p240", "p300", "p360"], "range": ["#000000", "#083d36", "#00695e", "#1b6e98", "#4536cc", "#7c0cf5", "#a52fae", "#dc6546", "#fd9328"]}}
     }
    },
    {
     "data": {"name": "curves"},
     "transform": [{"filter": "datum.panel === 'R' && datum.series === 'p360'"}],
     "mark": {"type": "line", "clip": true},
     "encoding": {
      "x": {"field": "x", "type": "quantitative", "scale": {"domain": [0, 75], "nice": false, "zero": false},
            "axis": {"orient": "bottom", "values": [5, 10, 15, 25, 30, 35, 45, 50, 55, 65, 70], "labels": false, "domain": false, "title": null, "tickSize": -7}},
      "y": {"field": "y", "type": "quantitative", "scale": {"domain": [-1.103, 2.755], "nice": false, "zero": false},
            "axis": {"orient": "right", "values": [2.407, 0.5075, -0.1257, -0.4423, -0.6322, -0.7588, -0.8493, -0.9171, -0.9699], "labels": false, "domain": false, "title": null, "tickSize": -11}},
      "color": {"field": "series", "type": "nominal", "legend": null, "scale": {"domain": ["perfect", "dash", "cl", "p060", "p120", "p180", "p240", "p300", "p360"], "range": ["#000000", "#083d36", "#00695e", "#1b6e98", "#4536cc", "#7c0cf5", "#a52fae", "#dc6546", "#fd9328"]}},
      "detail": {"field": "half", "type": "nominal"}
     }
    },
    {
     "data": {"name": "curves"},
     "transform": [{"filter": "datum.panel === 'R' && datum.series === 'p300'"}],
     "mark": {"type": "line", "clip": true},
     "encoding": {
      "x": {"field": "x", "type": "quantitative", "scale": {"domain": [0, 75], "nice": false, "zero": false},
            "axis": {"orient": "top", "values": [0, 20, 40, 60], "labels": false, "domain": false, "title": null, "tickSize": -14}},
      "y": {"field": "y", "type": "quantitative", "scale": {"domain": [-1.103, 2.755], "nice": false, "zero": false},
            "axis": {"orient": "right", "values": [2.407, 0.5075, -0.1257, -0.4423, -0.7588, -0.9699], "ticks": false, "domain": false, "labelAlign": "left", "labelPadding": 14, "labelExpr": "datum.value > 2 ? '1' : datum.value > 0 ? '2' : datum.value > -0.3 ? '3' : datum.value > -0.6 ? '4' : datum.value > -0.85 ? '6' : '9'", "title": "Equilibrium Climate Sensitivity (K)", "titleX": 73, "titleY": 381, "titleAngle": 270, "titleAlign": "center", "titleBaseline": "alphabetic"}},
      "color": {"field": "series", "type": "nominal", "legend": null, "scale": {"domain": ["perfect", "dash", "cl", "p060", "p120", "p180", "p240", "p300", "p360"], "range": ["#000000", "#083d36", "#00695e", "#1b6e98", "#4536cc", "#7c0cf5", "#a52fae", "#dc6546", "#fd9328"]}},
      "detail": {"field": "half", "type": "nominal"}
     }
    },
    {
     "data": {"name": "curves"},
     "transform": [{"filter": "datum.panel === 'R' && datum.series === 'p240'"}],
     "mark": {"type": "line", "clip": true},
     "encoding": {
      "x": {"field": "x", "type": "quantitative", "scale": {"domain": [0, 75], "nice": false, "zero": false},
            "axis": {"orient": "top", "values": [5, 10, 15, 25, 30, 35, 45, 50, 55, 65, 70], "labels": false, "domain": false, "title": null, "tickSize": -7}},
      "y": {"field": "y", "type": "quantitative", "scale": {"domain": [-1.103, 2.755], "nice": false, "zero": false},
            "axis": {"orient": "right", "offset": 111, "values": [2.407, 0.5075, -0.1257, -0.4423, -0.6322, -0.7588, -0.8493, -0.9171, -0.9699], "labels": false, "domain": true, "title": null, "tickSize": -12}},
      "color": {"field": "series", "type": "nominal", "legend": null, "scale": {"domain": ["perfect", "dash", "cl", "p060", "p120", "p180", "p240", "p300", "p360"], "range": ["#000000", "#083d36", "#00695e", "#1b6e98", "#4536cc", "#7c0cf5", "#a52fae", "#dc6546", "#fd9328"]}},
      "detail": {"field": "half", "type": "nominal"}
     }
    },
    {
     "data": {"name": "curves"},
     "transform": [{"filter": "datum.panel === 'R' && datum.series === 'p180'"}],
     "mark": {"type": "line", "clip": true},
     "encoding": {
      "x": {"field": "x", "type": "quantitative", "scale": {"domain": [0, 75], "nice": false, "zero": false}, "axis": null},
      "y": {"field": "y", "type": "quantitative", "scale": {"domain": [-1.103, 2.755], "nice": false, "zero": false},
            "axis": {"orient": "right", "offset": 111, "values": [2.407, 0.5075, -0.1257, -0.4423, -0.7588, -0.9699], "ticks": false, "domain": false, "labelAlign": "right", "labelPadding": 110, "labelExpr": "datum.value > 2 ? '-2.08' : datum.value > 0 ? '-0.23' : datum.value > -0.3 ? '0.39' : datum.value > -0.6 ? '0.69' : datum.value > -0.85 ? '1.00' : '1.21'", "title": "SW Cloud Feedback (Wm⁻²K⁻¹)", "titleX": 153, "titleY": 388, "titleAngle": 270, "titleAlign": "center", "titleBaseline": "alphabetic"}},
      "color": {"field": "series", "type": "nominal", "legend": null, "scale": {"domain": ["perfect", "dash", "cl", "p060", "p120", "p180", "p240", "p300", "p360"], "range": ["#000000", "#083d36", "#00695e", "#1b6e98", "#4536cc", "#7c0cf5", "#a52fae", "#dc6546", "#fd9328"]}},
      "detail": {"field": "half", "type": "nominal"}
     }
    },
    {
     "data": {"name": "curves"},
     "transform": [{"filter": "datum.panel === 'R' && datum.series === 'p120'"}],
     "mark": {"type": "line", "clip": true},
     "encoding": {
      "x": {"field": "x", "type": "quantitative", "scale": {"domain": [0, 75], "nice": false, "zero": false}, "axis": null},
      "y": {"field": "y", "type": "quantitative", "scale": {"domain": [-1.103, 2.755], "nice": false, "zero": false},
            "axis": {"orient": "right", "offset": 280, "values": [-1, 0, 1, 2], "labels": false, "domain": true, "title": null, "tickSize": -13}},
      "color": {"field": "series", "type": "nominal", "legend": null, "scale": {"domain": ["perfect", "dash", "cl", "p060", "p120", "p180", "p240", "p300", "p360"], "range": ["#000000", "#083d36", "#00695e", "#1b6e98", "#4536cc", "#7c0cf5", "#a52fae", "#dc6546", "#fd9328"]}},
      "detail": {"field": "half", "type": "nominal"}
     }
    },
    {
     "data": {"name": "curves"},
     "transform": [{"filter": "datum.panel === 'R' && datum.series === 'p060'"}],
     "mark": {"type": "line", "clip": true},
     "encoding": {
      "x": {"field": "x", "type": "quantitative", "scale": {"domain": [0, 75], "nice": false, "zero": false}, "axis": null},
      "y": {"field": "y", "type": "quantitative", "scale": {"domain": [-1.103, 2.755], "nice": false, "zero": false},
            "axis": {"orient": "right", "offset": 280, "values": [-1.1, -0.9, -0.8, -0.7, -0.6, -0.5, -0.4, -0.3, -0.2, -0.1, 0.1, 0.2, 0.3, 0.4, 0.5, 0.6, 0.7, 0.8, 0.9, 1.1, 1.2, 1.3, 1.4, 1.5, 1.6, 1.7, 1.8, 1.9, 2.1, 2.2, 2.3, 2.4, 2.5, 2.6, 2.7], "labels": false, "domain": false, "title": null, "tickSize": -7}},
      "color": {"field": "series", "type": "nominal", "legend": null, "scale": {"domain": ["perfect", "dash", "cl", "p060", "p120", "p180", "p240", "p300", "p360"], "range": ["#000000", "#083d36", "#00695e", "#1b6e98", "#4536cc", "#7c0cf5", "#a52fae", "#dc6546", "#fd9328"]}},
      "detail": {"field": "half", "type": "nominal"}
     }
    },
    {
     "data": {"name": "curves"},
     "transform": [{"filter": "datum.panel === 'R' && datum.series === 'cl'"}],
     "mark": {"type": "line", "clip": true},
     "encoding": {
      "x": {"field": "x", "type": "quantitative", "scale": {"domain": [0, 75], "nice": false, "zero": false}, "axis": null},
      "y": {"field": "y", "type": "quantitative", "scale": {"domain": [-1.103, 2.755], "nice": false, "zero": false},
            "axis": {"orient": "right", "offset": 280, "values": [-1, 0, 1, 2], "ticks": false, "domain": false, "labelAlign": "left", "labelPadding": 14, "title": "Rel. log₁₀(τC) Trend (%/dec), 95% Conf.", "titleX": 91, "titleY": 381, "titleAngle": 270, "titleAlign": "center", "titleBaseline": "alphabetic"}},
      "color": {"field": "series", "type": "nominal", "legend": null, "scale": {"domain": ["perfect", "dash", "cl", "p060", "p120", "p180", "p240", "p300", "p360"], "range": ["#000000", "#083d36", "#00695e", "#1b6e98", "#4536cc", "#7c0cf5", "#a52fae", "#dc6546", "#fd9328"]}},
      "detail": {"field": "half", "type": "nominal"}
     }
    },
    {
     "data": {"name": "curves"},
     "transform": [{"filter": "datum.panel === 'R' && datum.series === 'dash'"}],
     "mark": {"type": "line", "clip": true, "strokeWidth": 3, "strokeDash": [16, 6]},
     "encoding": {
      "x": {"field": "x", "type": "quantitative", "scale": {"domain": [0, 75], "nice": false, "zero": false}, "axis": null},
      "y": {"field": "y", "type": "quantitative", "scale": {"domain": [-1.103, 2.755], "nice": false, "zero": false}, "axis": null},
      "color": {"field": "series", "type": "nominal", "legend": null, "scale": {"domain": ["perfect", "dash", "cl", "p060", "p120", "p180", "p240", "p300", "p360"], "range": ["#000000", "#083d36", "#00695e", "#1b6e98", "#4536cc", "#7c0cf5", "#a52fae", "#dc6546", "#fd9328"]}},
      "detail": {"field": "half", "type": "nominal"}
     }
    }
   ]
  }
 ]
}
